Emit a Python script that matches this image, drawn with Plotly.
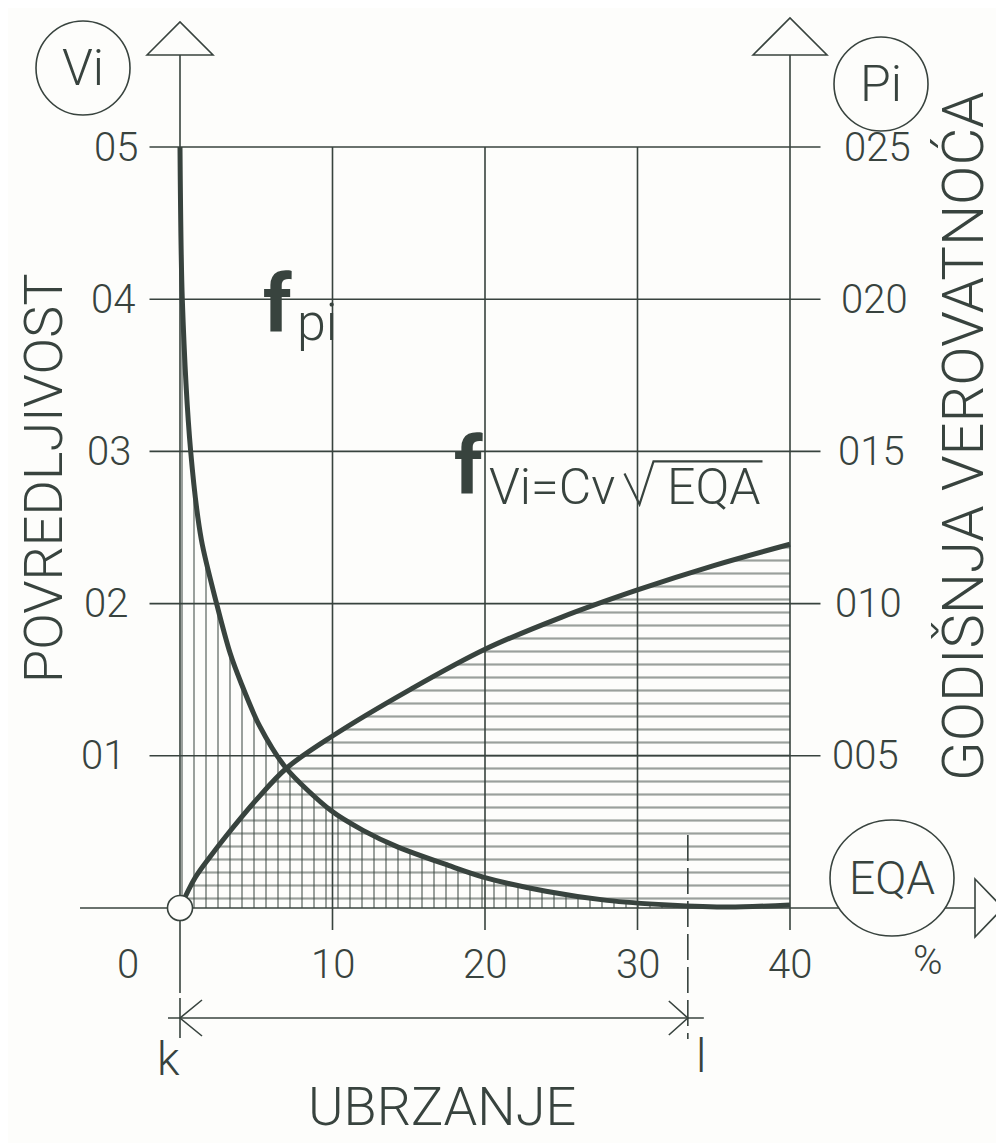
import plotly.graph_objects as go

# EQA [%] and vulnerability Vi
eqa_vi = [0.0, 1.0, 2.0, 3.0, 5.0, 7.0, 10.0, 15.0, 20.0, 25.0, 30.0, 35.0, 40.0]
vi = [0.0, 0.020, 0.034, 0.047, 0.071, 0.092, 0.113, 0.143, 0.170, 0.191, 0.209, 0.225, 0.239]

# EQA [%] and annual probability pi
eqa_pi = [0.0, 0.15, 0.7, 1.4, 2.4, 3.3, 4.0, 5.2, 6.95, 9.9, 12.0, 14.3, 17.6, 20.0,
          24.0, 28.0, 32.0, 36.0, 40.0]
pi = [0.025, 0.020, 0.015, 0.0121, 0.0100, 0.00835, 0.0074, 0.0060, 0.0046, 0.0032,
      0.00255, 0.0020, 0.0014, 0.0010, 0.00055, 0.00025, 0.0001, 0.00003, 0.0001]

eqa_ticks = [10, 20, 30, 40]
vi_ticks = [0.1, 0.2, 0.3, 0.4, 0.5]
vi_tick_text = ["01", "02", "03", "04", "05"]
pi_ticks = [0.005, 0.010, 0.015, 0.020, 0.025]
pi_tick_text = ["005", "010", "015", "020", "025"]

k_eqa = 0.0   # start of the acceleration range
l_eqa = 33.3  # end of the acceleration range

INK = "#38433e"
PAPER = "#fdfdfb"
FONT = "Roboto"

# the page body keeps an 8px margin, so the figure is drawn 8px smaller
OFF = 8
W, H = 1004 - OFF, 1143 - OFF
X0PX, XPX = 180, 15.25   # picture pixel of EQA=0, pixels per %
Y0PX, YPX = 908, 1522    # picture pixel of Vi=0, pixels per unit Vi
x_range = [-(X0PX - OFF) / XPX, (W + OFF - X0PX) / XPX]
y_range = [-(H + OFF - Y0PX) / YPX, (Y0PX - OFF) / YPX]
pi_scale = pi_ticks[-1] / vi_ticks[-1]


def dx(p):
    return p / XPX


def dy(p):
    return p / YPX


def at(px, py):
    return (px - X0PX) / XPX, (Y0PX - py) / YPX


fig = go.Figure()

fig.add_trace(go.Scatter(
    x=eqa_vi, y=vi, mode="lines",
    line=dict(color=INK, width=5, shape="spline", smoothing=1.0),
    fill="tozeroy", fillcolor="rgba(0,0,0,0)",
    fillpattern=dict(shape="-", size=13, solidity=0.17, fgcolor=INK, bgcolor="rgba(0,0,0,0)"),
    hoverinfo="skip", showlegend=False,
))
fig.add_trace(go.Scatter(
    x=eqa_pi, y=pi, mode="lines", yaxis="y2",
    line=dict(color=INK, width=5, shape="spline", smoothing=0.8),
    fill="tozeroy", fillcolor="rgba(0,0,0,0)",
    fillpattern=dict(shape="|", size=12, solidity=0.17, fgcolor=INK, bgcolor="rgba(0,0,0,0)"),
    hoverinfo="skip", showlegend=False,
))

thin = dict(color=INK, width=1.6)
top = vi_ticks[-1]
x_end = eqa_ticks[-1]

# grid
for v in vi_ticks:
    fig.add_shape(type="line", x0=-2.0, x1=x_end + 2.0, y0=v, y1=v, line=thin)
for t in eqa_ticks[:-1]:
    fig.add_shape(type="line", x0=t, x1=t, y0=-dy(22), y1=top, line=thin)

# axes
arrow_base = top + dy(92)
fig.add_shape(type="line", x0=0, x1=0, y0=-dy(85), y1=arrow_base, line=thin)
fig.add_shape(type="line", x0=x_end, x1=x_end, y0=-dy(22), y1=arrow_base, line=thin)
fig.add_shape(type="line", x0=-dx(100), x1=x_end + dx(185), y0=0, y1=0, line=thin)


def tri(pts):
    return "M " + " L ".join(f"{a},{b}" for a, b in pts) + " Z"


fig.add_shape(type="path", path=tri([(-dx(33), arrow_base), (0, arrow_base + dy(33)), (dx(33), arrow_base)]),
              line=thin, fillcolor=PAPER)
fig.add_shape(type="path", path=tri([(x_end - dx(37), arrow_base), (x_end, arrow_base + dy(37)),
                                     (x_end + dx(37), arrow_base)]),
              line=thin, fillcolor=PAPER)
ax_tip = x_end + dx(185)
fig.add_shape(type="path", path=tri([(ax_tip, dy(29)), (ax_tip + dx(28), 0), (ax_tip, -dy(29))]),
              line=thin, fillcolor=PAPER)


def ellipse(cx, cy, rx, ry):
    fig.add_shape(type="circle", x0=cx - dx(rx), x1=cx + dx(rx), y0=cy - dy(ry), y1=cy + dy(ry),
                  line=thin, fillcolor=PAPER)


ellipse(0, 0, 12.5, 12.5)
vi_c = at(83, 68)
pi_c = at(881, 84)
eqa_c = at(892, 878)
ellipse(*vi_c, 47, 47)
ellipse(*pi_c, 47, 47)
ellipse(*eqa_c, 62, 58)

# k - l dimension
dim_y = -dy(110)
fig.add_shape(type="line", x0=k_eqa - dx(12), x1=l_eqa + dx(16), y0=dim_y, y1=dim_y, line=thin)
fig.add_shape(type="line", x0=k_eqa, x1=k_eqa, y0=dim_y - dy(20), y1=dim_y + dy(20), line=thin)
fig.add_shape(type="path", line=thin,
              path=f"M {k_eqa + dx(22)},{dim_y + dy(18)} L {k_eqa},{dim_y} L {k_eqa + dx(22)},{dim_y - dy(18)}")
fig.add_shape(type="path", line=thin,
              path=f"M {l_eqa - dx(19)},{dim_y + dy(17)} L {l_eqa},{dim_y} L {l_eqa - dx(19)},{dim_y - dy(17)}")
fig.add_shape(type="line", x0=l_eqa, x1=l_eqa, y0=dy(73), y1=dim_y - dy(21),
              line=dict(color=INK, width=1.6, dash="26px,7px"))

# radical sign of the f_Vi formula, hung on the 30 % grid line
rx0, ry0 = eqa_ticks[2], vi_ticks[2]
fig.add_shape(type="path", line=dict(color=INK, width=2.2),
              path=(f"M {rx0 - dx(13)},{ry0 - dy(22)} L {rx0 + dx(2)},{ry0 - dy(53)} "
                    f"L {rx0 + dx(16)},{ry0 - dy(10)} L {rx0 + dx(125)},{ry0 - dy(10)}"))


def label(x, y, text, size=40, weight=300, **kw):
    fig.add_annotation(x=x, y=y, text=text, showarrow=False,
                       font=dict(family=FONT, size=size, color=INK, weight=weight), **kw)


# the drawing leans a little: labels higher up sit further right
for v, t in zip(vi_ticks, vi_tick_text):
    label(-dx(53 - 32 * (v - vi_ticks[0])), v, t, xanchor="right")
for p, t in zip(pi_ticks, pi_tick_text):
    label(x_end + dx(40 + 30 * (p - pi_ticks[0]) / pi_scale), p / pi_scale, t, xanchor="left")
for t in eqa_ticks:
    label(t, -dy(56), str(t))
label(-dx(52), -dy(56), "0")
label(x_end + dx(138), -dy(52), "%")
label(k_eqa - dx(12), dim_y - dy(41), "k", size=46)
label(l_eqa + dx(13), dim_y - dy(38), "l", size=46)

label(*vi_c, "Vi", size=50)
label(*pi_c, "Pi", size=50)
label(*eqa_c, "EQA", size=46)

label(*at(43, 479), "POVREDLJIVOST", size=54, textangle=-90)
label(*at(963, 437), "GODIŠNJA VEROVATNOĆA", size=58, textangle=-90)
label(*at(442, 1106), "UBRZANJE", size=54)

label(6.4, 0.3966, "f", size=80, weight=700)
label(7.55, 0.3846, "pi", size=52, xanchor="left")
label(18.9, 0.2903, "f", size=80, weight=700)
label(20.1, 0.2765, "Vi=Cv", size=50, xanchor="left")
label(rx0 + dx(27), 0.2765, "EQA", size=50, xanchor="left")

fig.update_layout(
    width=W, height=H,
    margin=dict(l=0, r=0, t=0, b=0),
    paper_bgcolor=PAPER, plot_bgcolor=PAPER,
    xaxis=dict(range=x_range, visible=False, fixedrange=True),
    yaxis=dict(range=y_range, visible=False, fixedrange=True),
    yaxis2=dict(range=[r * pi_scale for r in y_range], overlaying="y", visible=False, fixedrange=True),
)

fig.write_html("out.html")
